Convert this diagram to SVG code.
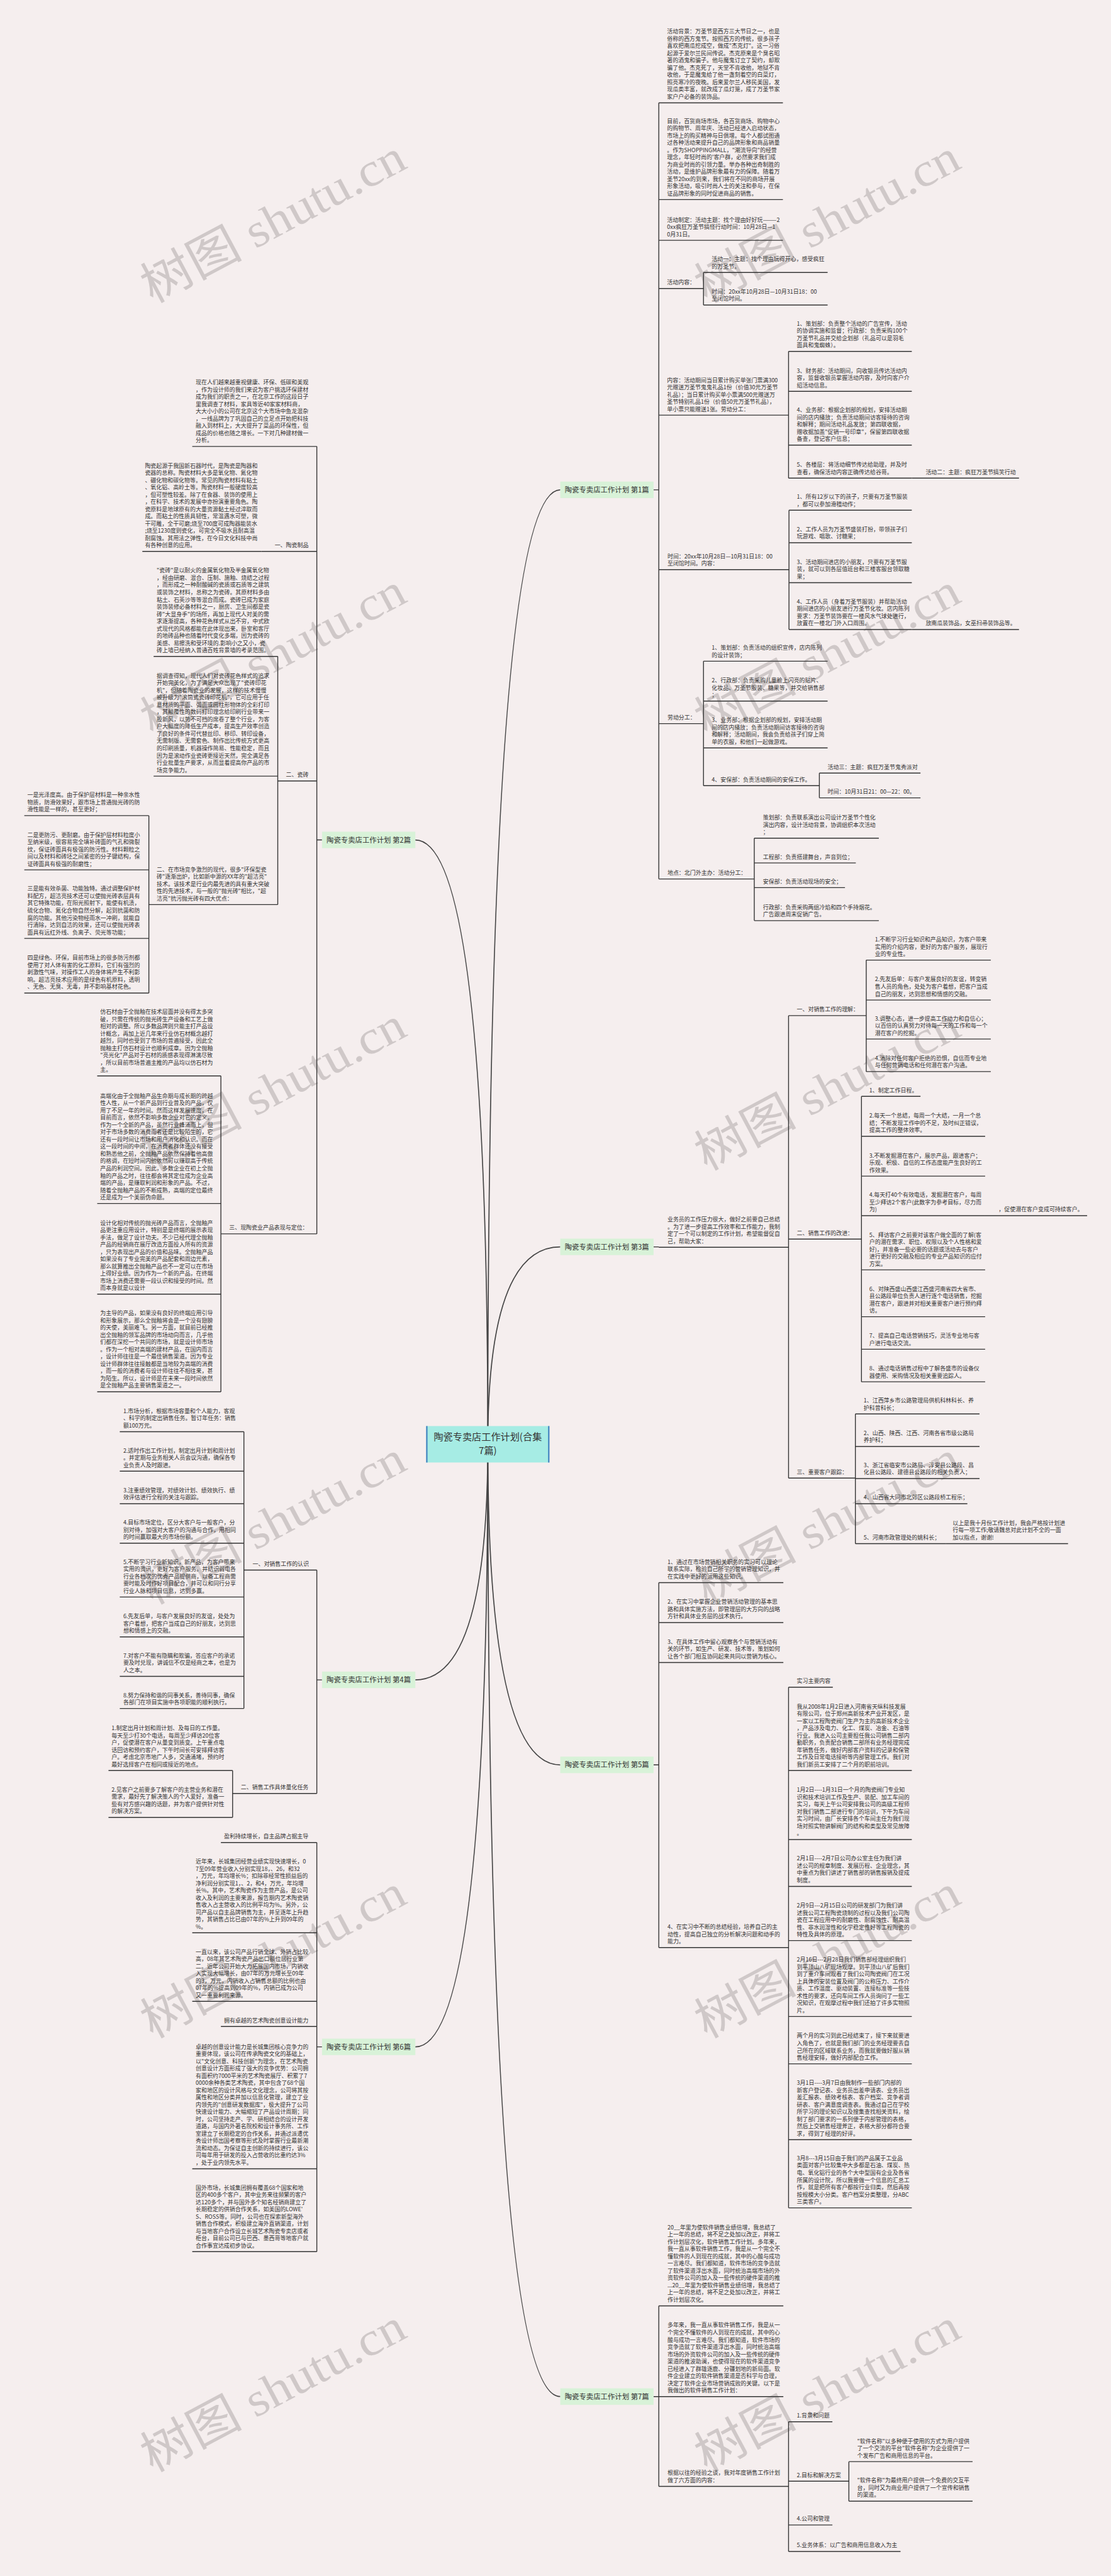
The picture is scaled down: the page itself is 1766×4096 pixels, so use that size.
<svg xmlns="http://www.w3.org/2000/svg" width="1766" height="4096" viewBox="0 0 1766 4096">
<style>
.t{font-family:"Noto Sans CJK SC","Noto Sans",sans-serif;font-size:13px;fill:#333}
.l{stroke:#333;stroke-width:2;fill:none}
.c{stroke:#444;stroke-width:2.5;fill:none}
.lb{fill:#d8f2d8}
.lt{font-family:"Noto Sans CJK SC","Noto Sans",sans-serif;font-size:16.5px;fill:#333;text-anchor:middle}
.wm{font-family:"Liberation Serif","Noto Sans CJK SC",serif;font-size:110px;fill:#cfc8c8}
</style>
<rect width="1766" height="4096" fill="#f5eeee"/>
<g transform="scale(0.68984375)">
<g id="watermarks">
<text class="wm" transform="translate(351 700) rotate(-28)" textLength="670" lengthAdjust="spacingAndGlyphs">树图 shutu.cn</text>
<text class="wm" transform="translate(351 1700) rotate(-28)" textLength="670" lengthAdjust="spacingAndGlyphs">树图 shutu.cn</text>
<text class="wm" transform="translate(351 2700) rotate(-28)" textLength="670" lengthAdjust="spacingAndGlyphs">树图 shutu.cn</text>
<text class="wm" transform="translate(351 3700) rotate(-28)" textLength="670" lengthAdjust="spacingAndGlyphs">树图 shutu.cn</text>
<text class="wm" transform="translate(351 4700) rotate(-28)" textLength="670" lengthAdjust="spacingAndGlyphs">树图 shutu.cn</text>
<text class="wm" transform="translate(351 5700) rotate(-28)" textLength="670" lengthAdjust="spacingAndGlyphs">树图 shutu.cn</text>
<text class="wm" transform="translate(1628 700) rotate(-28)" textLength="670" lengthAdjust="spacingAndGlyphs">树图 shutu.cn</text>
<text class="wm" transform="translate(1628 1700) rotate(-28)" textLength="670" lengthAdjust="spacingAndGlyphs">树图 shutu.cn</text>
<text class="wm" transform="translate(1628 2700) rotate(-28)" textLength="670" lengthAdjust="spacingAndGlyphs">树图 shutu.cn</text>
<text class="wm" transform="translate(1628 3700) rotate(-28)" textLength="670" lengthAdjust="spacingAndGlyphs">树图 shutu.cn</text>
<text class="wm" transform="translate(1628 4700) rotate(-28)" textLength="670" lengthAdjust="spacingAndGlyphs">树图 shutu.cn</text>
<text class="wm" transform="translate(1628 5700) rotate(-28)" textLength="670" lengthAdjust="spacingAndGlyphs">树图 shutu.cn</text>
</g>
<g id="connectors">
<path class="c" d="M1124 3329Q1124 1129 1291 1129"/>
<path class="c" d="M1124 3329Q1124 1936 957 1936"/>
<path class="c" d="M1124 3329Q1124 2874 1291 2874"/>
<path class="c" d="M1124 3329Q1124 3872 957 3872"/>
<path class="c" d="M1124 3329Q1124 4068 1291 4068"/>
<path class="c" d="M1124 3329Q1124 4718 957 4718"/>
<path class="c" d="M1124 3329Q1124 5524 1291 5524"/>
<path class="l" d="M1506 1129H1518M1518 237V2026M1621 628V703M1817 810V1102M1818 1176V1451M1621 1524V1811M1888 1782V1839M1738 1932V2122"/>
<path class="l" d="M1506 2874H1518M1817 2341V3407M1996 2213V2470M1985 2527V3185M1971 3259V3558"/>
<path class="l" d="M1506 4068H1518M1518 3648V4489M1817 3889V5089"/>
<path class="l" d="M1506 5524H1518M1518 5315V5731M1817 5582V5881M1956 5674V5765"/>
<path class="l" d="M742 1936H730M730 1029V2844M640 1513V2085M343 1880V2289M509 2480V3208"/>
<path class="l" d="M742 3872H730M730 3619V4134M562 3300V3938M536 4081V4189"/>
<path class="l" d="M742 4718H730M730 4247V5190"/>
</g>
<g id="center">
<rect x="982" y="3287" width="284" height="84" fill="#a6ece4"/>
<path d="M983.5 3287V3371M1264.5 3287V3371" stroke="#3f7fbf" stroke-width="3"/>
<text x="1124" y="3320" text-anchor="middle" style="font-family:'Noto Sans CJK SC',sans-serif;font-size:22px;fill:#333">陶瓷专卖店工作计划(合集</text>
<text x="1124" y="3352" text-anchor="middle" style="font-family:'Noto Sans CJK SC',sans-serif;font-size:22px;fill:#333">7篇)</text>
</g>
<g id="s1"><rect class="lb" x="1291" y="1110" width="215" height="38"/><text class="lt" x="1398.5" y="1135">陶瓷专卖店工作计划 第1篇</text></g>
<g id="s2"><rect class="lb" x="742" y="1917" width="215" height="38"/><text class="lt" x="849.5" y="1942">陶瓷专卖店工作计划 第2篇</text></g>
<g id="s3"><rect class="lb" x="1291" y="2855" width="215" height="38"/><text class="lt" x="1398.5" y="2880">陶瓷专卖店工作计划 第3篇</text></g>
<g id="s4"><rect class="lb" x="742" y="3853" width="215" height="38"/><text class="lt" x="849.5" y="3878">陶瓷专卖店工作计划 第4篇</text></g>
<g id="s5"><rect class="lb" x="1291" y="4049" width="215" height="38"/><text class="lt" x="1398.5" y="4074">陶瓷专卖店工作计划 第5篇</text></g>
<g id="s6"><rect class="lb" x="742" y="4699" width="215" height="38"/><text class="lt" x="849.5" y="4724">陶瓷专卖店工作计划 第6篇</text></g>
<g id="s7"><rect class="lb" x="1291" y="5505" width="215" height="38"/><text class="lt" x="1398.5" y="5530">陶瓷专卖店工作计划 第7篇</text></g>

<g id="n1a"><text class="t" y="77.2"><tspan x="1537">活动背景：万圣节是西方三大节日之一，也是</tspan><tspan x="1537" dy="16.7">俗称的西方鬼节。按照西方的传统，很多孩子</tspan><tspan x="1537" dy="16.7">喜欢把南瓜挖成空，做成"杰克灯"。这一习俗</tspan><tspan x="1537" dy="16.7">起源于爱尔兰民间传说。杰克原来是个臭名昭</tspan><tspan x="1537" dy="16.7">著的酒鬼和骗子。他与魔鬼订立了契约，却欺</tspan><tspan x="1537" dy="16.7">骗了他。杰克死了，天堂不肯收他，地狱不肯</tspan><tspan x="1537" dy="16.7">收他，于是魔鬼给了他一盏刻着空的白菜灯，</tspan><tspan x="1537" dy="16.7">照亮寒冷的夜晚。后来爱尔兰人移民美国，发</tspan><tspan x="1537" dy="16.7">现瓜类丰富，就改成了瓜灯笼，成了万圣节家</tspan><tspan x="1537" dy="16.7">家户户必备的装饰品。</tspan></text><path class="l" d="M1518 237H1804"/></g>
<g id="n1b"><text class="t" y="283.5"><tspan x="1537">目前，百货商场市场，各百货商场、购物中心</tspan><tspan x="1537" dy="16.7">的购物节、周年庆、活动已经进入启动状态，</tspan><tspan x="1537" dy="16.7">市场上的购买精神与日俱增。每个人都试图通</tspan><tspan x="1537" dy="16.7">过各种活动来提升自己的品牌形象和商品销量</tspan><tspan x="1537" dy="16.7">。作为SHOPPINGMALL，"潮流导向"的经营</tspan><tspan x="1537" dy="16.7">理念，年轻时尚的'客户群，必然要求我们成</tspan><tspan x="1537" dy="16.7">为商业时尚的引领力量。举办各种出奇制胜的</tspan><tspan x="1537" dy="16.7">活动，是维护品牌形象最有力的保障。随着万</tspan><tspan x="1537" dy="16.7">圣节20xx的到来，我们将在不同的商场开展</tspan><tspan x="1537" dy="16.7">形象活动，吸引时尚人士的关注和参与，在保</tspan><tspan x="1537" dy="16.7">证品牌形象的同时促进商品的销售。</tspan></text><path class="l" d="M1518 460H1804"/></g>
<g id="n1c"><text class="t" y="511.1"><tspan x="1537">活动制定：活动主题：找个理由好好玩———2</tspan><tspan x="1537" dy="16.7">0xx疯狂万圣节搞怪行动时间：10月28日—1</tspan><tspan x="1537" dy="16.7">0月31日。</tspan></text><path class="l" d="M1518 554H1804"/></g>
<g id="n1d"><text class="t" x="1537" y="655.5">活动内容：</text><path class="l" d="M1518 665H1621"/></g>
<g id="n1d1"><text class="t" y="601.8"><tspan x="1640">活动一：主题：找个理由玩得开心，感受疯狂</tspan><tspan x="1640" dy="16.7">的万圣节。</tspan></text><path class="l" d="M1621 628H1907"/></g>
<g id="n1d2"><text class="t" y="676.8"><tspan x="1640">时间：20xx年10月28日—10月31日18：00</tspan><tspan x="1640" dy="16.7">至闭馆时间。</tspan></text><path class="l" d="M1621 703H1907"/></g>
<g id="n1e"><text class="t" y="880.7"><tspan x="1537">内容：活动期间当日累计购买单张门票满300</tspan><tspan x="1537" dy="16.7">元赠送万圣节鬼鬼礼品1份（价值30元万圣节</tspan><tspan x="1537" dy="16.7">礼品）；当日累计购买单小票满500元赠送万</tspan><tspan x="1537" dy="16.7">圣节特别礼品1份（价值50元万圣节礼品），</tspan><tspan x="1537" dy="16.7">单小票只能赠送1张。劳动分工：</tspan></text><path class="l" d="M1518 957H1817"/></g>
<g id="n1e1"><text class="t" y="750.4"><tspan x="1836">1、策划部：负责整个活动的广告宣传，活动</tspan><tspan x="1836" dy="16.7">的协调实施和监督；行政部：负责采购100个</tspan><tspan x="1836" dy="16.7">万圣节礼品并交给企划部（礼品可以是羽毛</tspan><tspan x="1836" dy="16.7">面具和鬼蜘蛛）。</tspan></text><path class="l" d="M1817 810H2101"/></g>
<g id="n1e2"><text class="t" y="859.1"><tspan x="1836">3、财务部：活动期间，向收银员传达活动内</tspan><tspan x="1836" dy="16.7">容，监督收银员掌握活动内容，及时向客户介</tspan><tspan x="1836" dy="16.7">绍活动信息。</tspan></text><path class="l" d="M1817 902H2101"/></g>
<g id="n1e3"><text class="t" y="949.7"><tspan x="1836">4、业务部：根据企划部的规划，安排活动期</tspan><tspan x="1836" dy="16.7">间的店内播放；负责活动期间访客接待的咨询</tspan><tspan x="1836" dy="16.7">和解释；期间活动礼品发放；第四联收据，</tspan><tspan x="1836" dy="16.7">赠收据加盖"促销一号印章"，保留第四联收据</tspan><tspan x="1836" dy="16.7">备查，登记客户信息；</tspan></text><path class="l" d="M1817 1026H2101"/></g>
<g id="n1e4"><text class="t" y="1075.8"><tspan x="1836">5、各楼层：将活动细节传达给助理，并及时</tspan><tspan x="1836" dy="16.7">查看，确保活动内容正确传达给谷哥。</tspan></text><path class="l" d="M1817 1102H2101"/></g>
<g id="n1e4a"><text class="t" x="2133" y="1092.5">活动二：主题：疯狂万圣节搞笑行动</text><path class="l" d="M2101 1102H2348"/></g>
<g id="n1f"><text class="t" y="1286.8"><tspan x="1538">时间：20xx年10月28日—10月31日18：00</tspan><tspan x="1538" dy="16.7">至闭馆时间。内容：</tspan></text><path class="l" d="M1518 1313H1818"/></g>
<g id="n1f1"><text class="t" y="1149.8"><tspan x="1836">1、所有12岁以下的孩子，只要有万圣节服装</tspan><tspan x="1836" dy="16.7">，都可以参加滑稽动作；</tspan></text><path class="l" d="M1818 1176H2101"/></g>
<g id="n1f2"><text class="t" y="1224.8"><tspan x="1836">2、工作人员为万圣节盛装打扮，带领孩子们</tspan><tspan x="1836" dy="16.7">玩游戏、唱歌、讨糖果；</tspan></text><path class="l" d="M1818 1251H2101"/></g>
<g id="n1f3"><text class="t" y="1300.1"><tspan x="1836">3、活动期间进店的小朋友，只要有万圣节服</tspan><tspan x="1836" dy="16.7">装，就可以到各层值班台和三楼客服台领取糖</tspan><tspan x="1836" dy="16.7">果；</tspan></text><path class="l" d="M1818 1343H2101"/></g>
<g id="n1f4"><text class="t" y="1391.4"><tspan x="1836">4、工作人员（身着万圣节服装）并帮助活动</tspan><tspan x="1836" dy="16.7">期间进店的小朋友进行万圣节化妆。店内陈列</tspan><tspan x="1836" dy="16.7">要求：万圣节装饰要在一楼风水气球处进行，</tspan><tspan x="1836" dy="16.7">放置在一楼北门外入口周围。</tspan></text><path class="l" d="M1818 1451H2101"/></g>
<g id="n1f4a"><text class="t" x="2133" y="1441.5">放南瓜装饰品，女巫扫帚装饰品等。</text><path class="l" d="M2101 1451H2348"/></g>
<g id="n1g"><text class="t" x="1538" y="1658.5">劳动分工：</text><path class="l" d="M1518 1668H1621"/></g>
<g id="n1g1"><text class="t" y="1497.8"><tspan x="1640">1、策划部：负责活动的组织宣传，店内陈列</tspan><tspan x="1640" dy="16.7">的设计装饰；</tspan></text><path class="l" d="M1621 1524H1907"/></g>
<g id="n1g2"><text class="t" y="1573.1"><tspan x="1640">2、行政部：负责采购儿童脸上闪亮的贴片、</tspan><tspan x="1640" dy="16.7">化妆品、万圣节服装、糖果等，并交给销售部</tspan><tspan x="1640" dy="16.7">；</tspan></text><path class="l" d="M1621 1616H1907"/></g>
<g id="n1g3"><text class="t" y="1664.4"><tspan x="1640">3、业务部：根据企划部的规划，安排活动期</tspan><tspan x="1640" dy="16.7">间的店内播放；负责活动期间访客接待的咨询</tspan><tspan x="1640" dy="16.7">和解释；活动期间，我会负责给孩子们穿上简</tspan><tspan x="1640" dy="16.7">单的衣服，和他们一起做游戏。</tspan></text><path class="l" d="M1621 1724H1907"/></g>
<g id="n1g4"><text class="t" x="1640" y="1801.5">4、安保部：负责活动期间的安保工作。</text><path class="l" d="M1621 1811H1888"/></g>
<g id="n1g4a"><text class="t" x="1907" y="1772.5">活动三：主题：疯狂万圣节鬼秀派对</text><path class="l" d="M1888 1782H2121"/></g>
<g id="n1g4b"><text class="t" x="1907" y="1829.5">时间：10月31日21：00—22：00。</text><path class="l" d="M1888 1839H2121"/></g>
<g id="n1h"><text class="t" x="1538" y="2016.5">地点：北门外主办：活动分工：</text><path class="l" d="M1518 2026H1738"/></g>
<g id="n1h1"><text class="t" y="1889.1"><tspan x="1758">策划部：负责联系演出公司设计万圣节个性化</tspan><tspan x="1758" dy="16.7">演出内容，设计活动背景，协调组织本次活动</tspan><tspan x="1758" dy="16.7">；</tspan></text><path class="l" d="M1738 1932H2025"/></g>
<g id="n1h2"><text class="t" x="1758" y="1979.5">工程部：负责搭建舞台，声音到位；</text><path class="l" d="M1738 1989H1972"/></g>
<g id="n1h3"><text class="t" x="1758" y="2036.5">安保部：负责活动现场的安全；</text><path class="l" d="M1738 2046H1947"/></g>
<g id="n1h4"><text class="t" y="2095.8"><tspan x="1758">行政部：负责采购两组冷焰和四个手持烟花。</tspan><tspan x="1758" dy="16.7">广告跟进周末促销广告。</tspan></text><path class="l" d="M1738 2122H2025"/></g>

<g id="n3"><text class="t" y="2815.4"><tspan x="1538">业务员的工作压力很大，做好之前要自己总结</tspan><tspan x="1538" dy="16.7">。为了进一步提高工作效率和工作能力，我制</tspan><tspan x="1538" dy="16.7">定了一个可以制定的工作计划，希望能督促自</tspan><tspan x="1538" dy="16.7">己，帮助大家：</tspan></text><path class="l" d="M1518 2875H1817"/></g>
<g id="n3a"><text class="t" x="1836" y="2331.5">一、对销售工作的理解：</text><path class="l" d="M1817 2341H1996"/></g>
<g id="n3a1"><text class="t" y="2170.1"><tspan x="2016">1.不断学习行业知识和产品知识，为客户带来</tspan><tspan x="2016" dy="16.7">实用的介绍内容，更好的为客户服务，展现行</tspan><tspan x="2016" dy="16.7">业的专业性。</tspan></text><path class="l" d="M1996 2213H2283"/></g>
<g id="n3a2"><text class="t" y="2262.1"><tspan x="2016">2.先友后单：与客户发展良好的友谊，转变销</tspan><tspan x="2016" dy="16.7">售人员的角色，处处为客户着想，把客户当成</tspan><tspan x="2016" dy="16.7">自己的朋友，达到思想和情感的交融。</tspan></text><path class="l" d="M1996 2305H2283"/></g>
<g id="n3a3"><text class="t" y="2352.1"><tspan x="2016">3.调整心态，进一步提高工作动力和自信心；</tspan><tspan x="2016" dy="16.7">以百倍的认真努力对待每一天的工作和每一个</tspan><tspan x="2016" dy="16.7">潜在客户的挖掘。</tspan></text><path class="l" d="M1996 2395H2283"/></g>
<g id="n3a4"><text class="t" y="2443.8"><tspan x="2016">4.消除对任何客户拒绝的恐惧，自信而专业地</tspan><tspan x="2016" dy="16.7">与任何营销电话和任何潜在客户沟通。</tspan></text><path class="l" d="M1996 2470H2283"/></g>
<g id="n3b"><text class="t" x="1836" y="2846.5">二、销售工作的改进：</text><path class="l" d="M1817 2856H1985"/></g>
<g id="n3b1"><text class="t" x="2003" y="2517.5">1、制定工作日程。</text><path class="l" d="M1985 2527H2121"/></g>
<g id="n3b2"><text class="t" y="2576.1"><tspan x="2003">2.每天一个总结，每周一个大结，一月一个总</tspan><tspan x="2003" dy="16.7">结；不断发现工作中的不足，及时纠正错误，</tspan><tspan x="2003" dy="16.7">提高工作的整体效率。</tspan></text><path class="l" d="M1985 2619H2270"/></g>
<g id="n3b3"><text class="t" y="2668.1"><tspan x="2003">3.不断发掘潜在客户，展示产品，跟进客户；</tspan><tspan x="2003" dy="16.7">乐观、积极、自信的工作态度能产生良好的工</tspan><tspan x="2003" dy="16.7">作效果。</tspan></text><path class="l" d="M1985 2711H2270"/></g>
<g id="n3b4"><text class="t" y="2759.1"><tspan x="2003">4.每天打40个有效电话，发掘潜在客户，每周</tspan><tspan x="2003" dy="16.7">至少拜访2个客户(此数字为参考目标，尽力而</tspan><tspan x="2003" dy="16.7">为)</tspan></text><path class="l" d="M1985 2802H2270"/></g>
<g id="n3b4a"><text class="t" x="2301" y="2792.5">，促使潜在客户变成可持续客户。</text><path class="l" d="M2270 2802H2505"/></g>
<g id="n3b5"><text class="t" y="2850.7"><tspan x="2003">5、拜访客户之前要对该客户做全面的了解(客</tspan><tspan x="2003" dy="16.7">户的潜在需求、职位、权限以及个人性格和爱</tspan><tspan x="2003" dy="16.7">好)，并准备一些必要的话题或活动去与客户</tspan><tspan x="2003" dy="16.7">进行更好的交融及相应的专业产品知识的应付</tspan><tspan x="2003" dy="16.7">方案。</tspan></text><path class="l" d="M1985 2927H2270"/></g>
<g id="n3b6"><text class="t" y="2975.4"><tspan x="2003">6、对陕西盛山西盛江西盛河南省四大省市、</tspan><tspan x="2003" dy="16.7">县公路段单位负责人进行逐个电话销售，挖掘</tspan><tspan x="2003" dy="16.7">潜在客户，跟进并对相关重要客户进行预约拜</tspan><tspan x="2003" dy="16.7">访。</tspan></text><path class="l" d="M1985 3035H2270"/></g>
<g id="n3b7"><text class="t" y="3083.8"><tspan x="2003">7、提高自己电话营销技巧，灵活专业地与客</tspan><tspan x="2003" dy="16.7">户进行电话交流。</tspan></text><path class="l" d="M1985 3110H2270"/></g>
<g id="n3b8"><text class="t" y="3158.8"><tspan x="2003">8、通过电话销售过程中了解各盛市的设备仪</tspan><tspan x="2003" dy="16.7">器使用、采购情况及相关重要追踪人。</tspan></text><path class="l" d="M1985 3185H2270"/></g>
<g id="n3c"><text class="t" x="1836" y="3397.5">三、重要客户跟踪：</text><path class="l" d="M1817 3407H1971"/></g>
<g id="n3c1"><text class="t" y="3232.8"><tspan x="1990">1、江西萍乡市公路管理局供机科林科长、养</tspan><tspan x="1990" dy="16.7">护科曾科长；</tspan></text><path class="l" d="M1971 3259H2257"/></g>
<g id="n3c2"><text class="t" y="3307.8"><tspan x="1990">2、山西、陕西、江西、河南各省市级公路局</tspan><tspan x="1990" dy="16.7">养护科；</tspan></text><path class="l" d="M1971 3334H2257"/></g>
<g id="n3c3"><text class="t" y="3381.8"><tspan x="1990">3、浙江省临安市公路局、淳安县公路段、昌</tspan><tspan x="1990" dy="16.7">化县公路段、建德县公路段的相关负责人；</tspan></text><path class="l" d="M1971 3408H2257"/></g>
<g id="n3c4"><text class="t" x="1990" y="3456.5">4、山西省大同市北郊区公路段桥工程乐；</text><path class="l" d="M1971 3466H2229"/></g>
<g id="n3c5"><text class="t" x="1990" y="3548.5">5、河南市政管理处的姚科长；</text><path class="l" d="M1971 3558H2180"/></g>
<g id="n3c5a"><text class="t" y="3515.1"><tspan x="2195">以上是我十月份工作计划，我会严格按计划进</tspan><tspan x="2195" dy="16.7">行每一项工作;敬请魏总对此计划不全的一面</tspan><tspan x="2195" dy="16.7">加以指点，谢谢!</tspan></text><path class="l" d="M2180 3558H2461"/></g>

<g id="n5a"><text class="t" y="3605.1"><tspan x="1538">1、通过在市场营销相关职务的实习可以理论</tspan><tspan x="1538" dy="16.7">联系实际，检验自己所学的营销管理知识，并</tspan><tspan x="1538" dy="16.7">在实践中更好的运用这些知识。</tspan></text><path class="l" d="M1518 3648H1805"/></g>
<g id="n5b"><text class="t" y="3697.1"><tspan x="1538">2、在实习中掌握企业营销活动管理的基本思</tspan><tspan x="1538" dy="16.7">路和具体实施方法，即管理层的大方向的战略</tspan><tspan x="1538" dy="16.7">方针和具体业务层的战术执行。</tspan></text><path class="l" d="M1518 3740H1805"/></g>
<g id="n5c"><text class="t" y="3789.1"><tspan x="1538">3、在具体工作中留心观察各个与营销活动有</tspan><tspan x="1538" dy="16.7">关的环节，如生产、研发、技术等，策划如何</tspan><tspan x="1538" dy="16.7">让各个部门相互协同起来共同以营销为核心。</tspan></text><path class="l" d="M1518 3832H1805"/></g>
<g id="n5d"><text class="t" y="4446.1"><tspan x="1538">4、在实习中不断的总结经验，培养自己的主</tspan><tspan x="1538" dy="16.7">动性，提高自己独立的分析解决问题和动手的</tspan><tspan x="1538" dy="16.7">能力。</tspan></text><path class="l" d="M1518 4489H1817"/></g>
<g id="n5d0"><text class="t" x="1836" y="3879.5">实习主要内容</text><path class="l" d="M1817 3889H1919"/></g>
<g id="n5d1"><text class="t" y="3937.9"><tspan x="1836">我从2008年1月2日进入河南省天纵科技发展</tspan><tspan x="1836" dy="16.7">有限公司，位于郑州高新技术产业开发区，是</tspan><tspan x="1836" dy="16.7">一家以工程陶瓷阀门生产为主的高新技术企业</tspan><tspan x="1836" dy="16.7">，产品涉及电力、化工、煤炭、冶金、石油等</tspan><tspan x="1836" dy="16.7">行业。我进入公司主要担任我公司销售二部内</tspan><tspan x="1836" dy="16.7">勤职务，负责配合销售二部所有业务经理完成</tspan><tspan x="1836" dy="16.7">年销售任务，做好内部客户资料的记录和保管</tspan><tspan x="1836" dy="16.7">工作及日常电话接听等内部管理工作。我们对</tspan><tspan x="1836" dy="16.7">我们新员工安排了二个月的职前培训。</tspan></text><path class="l" d="M1817 4081H2101"/></g>
<g id="n5d2"><text class="t" y="4130.3"><tspan x="1836">1月2日----1月31日一个月的陶瓷阀门专业知</tspan><tspan x="1836" dy="16.7">识和技术培训工作及生产、装配、加工车间的</tspan><tspan x="1836" dy="16.7">实习，每天上午公司安排我公司的高级工程师</tspan><tspan x="1836" dy="16.7">对我们销售二部进行专门的培训，下午为车间</tspan><tspan x="1836" dy="16.7">实习时间，由厂长安排各个车间主任为我们现</tspan><tspan x="1836" dy="16.7">场对照实物讲解阀门的结构和类型及常见故障</tspan><tspan x="1836" dy="16.7">。</tspan></text><path class="l" d="M1817 4240H2101"/></g>
<g id="n5d3"><text class="t" y="4288.4"><tspan x="1836">2月1日----2月7日公司办公室主任为我们讲</tspan><tspan x="1836" dy="16.7">述公司的规章制度、发展历程、企业理念，其</tspan><tspan x="1836" dy="16.7">中重点为我们讲述了销售部的销售报销及提成</tspan><tspan x="1836" dy="16.7">制度。</tspan></text><path class="l" d="M1817 4348H2101"/></g>
<g id="n5d4"><text class="t" y="4396.7"><tspan x="1836">2月9日---2月15日公司的研发部门为我们讲</tspan><tspan x="1836" dy="16.7">述我公司工程陶瓷烧制的过程以及我们公司陶</tspan><tspan x="1836" dy="16.7">瓷在工程应用中的耐磨性、耐腐蚀性、耐高温</tspan><tspan x="1836" dy="16.7">性、非水润湿性和化学稳定性好等工程陶瓷的</tspan><tspan x="1836" dy="16.7">特性及具体的原理。</tspan></text><path class="l" d="M1817 4473H2101"/></g>
<g id="n5d5"><text class="t" y="4521.6"><tspan x="1836">2月16日---2月28日我们销售部经理组织我们</tspan><tspan x="1836" dy="16.7">到平顶山八矿现场观摩。到平顶山八矿后我们</tspan><tspan x="1836" dy="16.7">到了重介车间观看了我们公司陶瓷阀门在工况</tspan><tspan x="1836" dy="16.7">上具体的安装位置及阀门的公称压力、工作介</tspan><tspan x="1836" dy="16.7">质、工作温度、驱动装置、连接标准等一些技</tspan><tspan x="1836" dy="16.7">术性的要求，还向车间工作人员询问了一些工</tspan><tspan x="1836" dy="16.7">况知识，在观摩过程中我们还拍了许多实物照</tspan><tspan x="1836" dy="16.7">片。</tspan></text><path class="l" d="M1817 4648H2101"/></g>
<g id="n5d6"><text class="t" y="4697.4"><tspan x="1836">两个月的实习到此已经结束了，接下来就要进</tspan><tspan x="1836" dy="16.7">入角色了，也就是我们部门的业务经理要去自</tspan><tspan x="1836" dy="16.7">己所在的区域联系业务，而我就要做好服从销</tspan><tspan x="1836" dy="16.7">售经理安排，做好内部配合工作。</tspan></text><path class="l" d="M1817 4757H2101"/></g>
<g id="n5d7"><text class="t" y="4805.6"><tspan x="1836">3月1日----3月7日由我制作一些部门内部的</tspan><tspan x="1836" dy="16.7">新客户登记表、业务员出差申请表、业务员出</tspan><tspan x="1836" dy="16.7">差汇报表、绩效考核表、客户档案、竞争者调</tspan><tspan x="1836" dy="16.7">研表、客户满意度调查表。我通过自己在学校</tspan><tspan x="1836" dy="16.7">所学习的理论知识以及搜集查找相关资料，绘</tspan><tspan x="1836" dy="16.7">制了部门要求的一系列便于内部管理的表格，</tspan><tspan x="1836" dy="16.7">然后上交销售经理斧正，表格大部分都符合要</tspan><tspan x="1836" dy="16.7">求，得到了经理的好评。</tspan></text><path class="l" d="M1817 4932H2101"/></g>
<g id="n5d8"><text class="t" y="4979.3"><tspan x="1836">3月8---3月15日由于我们的产品属于工业品</tspan><tspan x="1836" dy="16.7">类面对客户比较集中大多都是石油、煤炭、热</tspan><tspan x="1836" dy="16.7">电、氧化铝行业的各个大中型国有企业及各省</tspan><tspan x="1836" dy="16.7">所属的设计院，所以我要做一个信息的汇总工</tspan><tspan x="1836" dy="16.7">作，就是把所有客户都按行业归类，然后再按</tspan><tspan x="1836" dy="16.7">按规模大小分类。客户档案分类整理，分ABC</tspan><tspan x="1836" dy="16.7">三类客户。</tspan></text><path class="l" d="M1817 5089H2101"/></g>

<g id="n7a"><text class="t" y="5138.5"><tspan x="1538">20__年里为使软件销售业绩倍增，我总结了</tspan><tspan x="1538" dy="16.7">上一年的总结，将不足之处加以改正，并将工</tspan><tspan x="1538" dy="16.7">作计划层次化，软件销售工作计划。多年来，</tspan><tspan x="1538" dy="16.7">我一直从事软件销售工作，我是从一个完全不</tspan><tspan x="1538" dy="16.7">懂软件的人到现在的成就，其中的心酸与成功</tspan><tspan x="1538" dy="16.7">一言难尽。我们都知道，软件市场的竞争造就</tspan><tspan x="1538" dy="16.7">了软件渠道浮出水面，同时统治高端市场的外</tspan><tspan x="1538" dy="16.7">资软件公司的加入及一些传统的硬件渠道的推</tspan><tspan x="1538" dy="16.7">...20__年里为使软件销售业绩倍增，我总结了</tspan><tspan x="1538" dy="16.7">上一年的总结，将不足之处加以改正，并将工</tspan><tspan x="1538" dy="16.7">作计划层次化。</tspan></text><path class="l" d="M1518 5315H1805"/></g>
<g id="n7b"><text class="t" y="5364.2"><tspan x="1538">多年来，我一直从事软件销售工作，我是从一</tspan><tspan x="1538" dy="16.7">个完全不懂软件的人到现在的成就，其中的心</tspan><tspan x="1538" dy="16.7">酸与成功一言难尽。我们都知道，软件市场的</tspan><tspan x="1538" dy="16.7">竞争造就了软件渠道浮出水面，同时统治高端</tspan><tspan x="1538" dy="16.7">市场的外资软件公司的加入及一些传统的硬件</tspan><tspan x="1538" dy="16.7">渠道的推波助澜，也使得现在的软件渠道竞争</tspan><tspan x="1538" dy="16.7">已经进入了群雄逐鹿、分疆划地的新局面。软</tspan><tspan x="1538" dy="16.7">件企业建立的软件销售渠道是否科学与合理，</tspan><tspan x="1538" dy="16.7">决定了软件企业市场营销成败的关键。以下是</tspan><tspan x="1538" dy="16.7">我做出的软件销售工作计划：</tspan></text><path class="l" d="M1518 5524H1805"/></g>
<g id="n7c"><text class="t" y="5704.8"><tspan x="1538">根据以往的经验之谈，我对年度销售工作计划</tspan><tspan x="1538" dy="16.7">做了六方面的内容：</tspan></text><path class="l" d="M1518 5731H1817"/></g>
<g id="n7c1"><text class="t" x="1836" y="5572.5">1.背景和问题</text><path class="l" d="M1817 5582H1918"/></g>
<g id="n7c2"><text class="t" x="1836" y="5709.5">2.目标和解决方案</text><path class="l" d="M1817 5719H1956"/></g>
<g id="n7c2a"><text class="t" y="5631.1"><tspan x="1975">"软件名称"以多种便于使用的方式为用户提供</tspan><tspan x="1975" dy="16.7">了一个交流的平台"软件名称"为企业提供了一</tspan><tspan x="1975" dy="16.7">个发布广告和商用信息的平台。</tspan></text><path class="l" d="M1956 5674H2241"/></g>
<g id="n7c2b"><text class="t" y="5722.1"><tspan x="1975">"软件名称"为最终用户提供一个免费的交互平</tspan><tspan x="1975" dy="16.7">台，同时又为商业用户提供了一个宣传和销售</tspan><tspan x="1975" dy="16.7">的渠道。</tspan></text><path class="l" d="M1956 5765H2241"/></g>
<g id="n7c3"><text class="t" x="1836" y="5810.5">4.公司和管理</text><path class="l" d="M1817 5820H1918"/></g>
<g id="n7c4"><text class="t" x="1836" y="5871.5">5.业务体系：以广告和商用信息收入为主</text><path class="l" d="M1817 5881H2075"/></g>

<g id="n2a"><text class="t" y="885.9"><tspan x="451">现在人们越来越重视健康、环保、低碳和美观</tspan><tspan x="451" dy="16.7">，作为设计师的我们来说为客户挑选环保建材</tspan><tspan x="451" dy="16.7">成为我们的职责之一，在北京工作的这段日子</tspan><tspan x="451" dy="16.7">里我调查了材料，家具等近40家家材料商，</tspan><tspan x="451" dy="16.7">大大小小的公司在北京这个大市场中鱼龙混杂</tspan><tspan x="451" dy="16.7">，一线品牌为了巩固自己的立足点开始把科技</tspan><tspan x="451" dy="16.7">融入到材料上，大大提升了菜品的环保性，但</tspan><tspan x="451" dy="16.7">成品的价格也随之增长。一下对几种建材做一</tspan><tspan x="451" dy="16.7">分析。</tspan></text><path class="l" d="M443 1029H730"/></g>
<g id="n2b"><text class="t" x="633" y="1261.5">一、陶瓷制品</text><path class="l" d="M602 1271H730"/></g>
<g id="n2b1"><text class="t" y="1077.8"><tspan x="334">陶瓷起源于我国新石器时代，是陶瓷是陶器和</tspan><tspan x="334" dy="16.7">瓷器的总称。陶瓷材料大多是氧化物、氮化物</tspan><tspan x="334" dy="16.7">、硼化物和碳化物等。常见的陶瓷材料有粘土</tspan><tspan x="334" dy="16.7">、氧化铝、高岭土等。陶瓷材料一般硬度较高</tspan><tspan x="334" dy="16.7">，但可塑性较差。除了在食器、装饰的使用上</tspan><tspan x="334" dy="16.7">，在科学、技术的发展中亦扮演重要角色。陶</tspan><tspan x="334" dy="16.7">瓷原料是地球原有的大量资源黏土经过淬取而</tspan><tspan x="334" dy="16.7">成。而粘土的性质具韧性，常温遇水可塑，微</tspan><tspan x="334" dy="16.7">干可雕，全干可磨;烧至700度可成陶器能装水</tspan><tspan x="334" dy="16.7">;烧至1230度则瓷化，可完全不吸水且耐高温</tspan><tspan x="334" dy="16.7">耐腐蚀。其用法之弹性，在今日文化科技中尚</tspan><tspan x="334" dy="16.7">有各种创意的应用。</tspan></text><path class="l" d="M328 1271H602"/></g>
<g id="n2c"><text class="t" x="659" y="1790.5">二、瓷砖</text><path class="l" d="M640 1800H730"/></g>
<g id="n2c1"><text class="t" y="1319.8"><tspan x="361">"瓷砖"是以耐火的金属氧化物及半金属氧化物</tspan><tspan x="361" dy="16.7">，经由研磨、混合、压制、施釉、烧结之过程</tspan><tspan x="361" dy="16.7">，而形成之一种耐酸碱的瓷质或石质等之建筑</tspan><tspan x="361" dy="16.7">或装饰之材料，总称之为瓷砖。其原材料多由</tspan><tspan x="361" dy="16.7">粘土、石英沙等等混合而成。瓷砖已成为家庭</tspan><tspan x="361" dy="16.7">装饰装修必备材料之一，厨房、卫生间都是瓷</tspan><tspan x="361" dy="16.7">砖"大显身手"的场所，再加上现代人对美的需</tspan><tspan x="361" dy="16.7">求逐渐提高，各种花色样式从出不穷，中式欧</tspan><tspan x="361" dy="16.7">式现代的风格都能在此体现出来，卧室和客厅</tspan><tspan x="361" dy="16.7">的地砖品种也随着时代变化多端，因为瓷砖的</tspan><tspan x="361" dy="16.7">美感、易擦洗和受环境的.影响小之又小，瓷</tspan><tspan x="361" dy="16.7">砖上墙已经纳入普通百姓背景墙的考录范围。</tspan></text><path class="l" d="M354 1513H640"/></g>
<g id="n2c2"><text class="t" y="1562.4"><tspan x="361">据调查得知，现代人们对瓷砖花色样式的追求</tspan><tspan x="361" dy="16.7">开始完美化，为了满足大众出现了"瓷砖印花</tspan><tspan x="361" dy="16.7">机"，但随着陶瓷业的发展，这样的技术慢慢</tspan><tspan x="361" dy="16.7">被升级为"滚筒式瓷砖印花机"，它可应用于任</tspan><tspan x="361" dy="16.7">意材质的平面、弧面或圆柱形物体的全彩打印</tspan><tspan x="361" dy="16.7">，其颠覆性的数码打印理念给印刷行业带来一</tspan><tspan x="361" dy="16.7">股新风，以势不可挡的席卷了整个行业，为客</tspan><tspan x="361" dy="16.7">户大幅度的降低生产成本，提高生产效率创造</tspan><tspan x="361" dy="16.7">了良好的条件可代替丝印、移印、转印设备，</tspan><tspan x="361" dy="16.7">无需制版、无需套色、制作出比传统方式更高</tspan><tspan x="361" dy="16.7">的印刷质量，机器操作简易、性能稳定，而且</tspan><tspan x="361" dy="16.7">因为是滚动作业瓷砖更接近天然，完全满足各</tspan><tspan x="361" dy="16.7">行业批量生产要求，从而显着提高你产品的市</tspan><tspan x="361" dy="16.7">场竞争能力。</tspan></text><path class="l" d="M354 1789H640"/></g>
<g id="n2c3"><text class="t" y="2008.7"><tspan x="361">二、在市场竞争激烈的现代，很多"环保型瓷</tspan><tspan x="361" dy="16.7">砖"逐渐出炉，比如新中源的XX年的"超洁亮"</tspan><tspan x="361" dy="16.7">技术。该技术是行业内最先进的具有重大突破</tspan><tspan x="361" dy="16.7">性的先进技术，与一般的"抛光砖"相比，"超</tspan><tspan x="361" dy="16.7">洁亮"抗污抛光砖有四大优点：</tspan></text><path class="l" d="M343 2085H640"/></g>
<g id="n2c3a"><text class="t" y="1837.1"><tspan x="63">一是光泽度高。由于保护层材料是一种亲水性</tspan><tspan x="63" dy="16.7">物质，防滑效果好，跟市场上普通抛光砖的防</tspan><tspan x="63" dy="16.7">滑性能是一样的，甚至更好；</tspan></text><path class="l" d="M56 1880H343"/></g>
<g id="n2c3b"><text class="t" y="1928.7"><tspan x="63">二是更防污、更耐磨。由于保护层材料粒度小</tspan><tspan x="63" dy="16.7">至纳米级，很容易完全填补砖面的气孔和微裂</tspan><tspan x="63" dy="16.7">纹，保证砖面具有极强的防污性。材料颗粒之</tspan><tspan x="63" dy="16.7">间以及材料和砖坯之间紧密的分子键结构，保</tspan><tspan x="63" dy="16.7">证砖面具有极强的耐磨性；</tspan></text><path class="l" d="M56 2005H343"/></g>
<g id="n2c3c"><text class="t" y="2053.3"><tspan x="63">三是能有效杀菌、功能独特。通过调整保护材</tspan><tspan x="63" dy="16.7">料配方，超洁亮技术还可以使抛光砖表层具有</tspan><tspan x="63" dy="16.7">其它特殊功能，在阳光照射下，能使有机渍，</tspan><tspan x="63" dy="16.7">硫化合物、氮化合物自然分解，起到抗菌和防</tspan><tspan x="63" dy="16.7">腐的功能。其他污染物经雨水一冲刷，就能自</tspan><tspan x="63" dy="16.7">行清除，达到自洁的效果，还可以使抛光砖表</tspan><tspan x="63" dy="16.7">面具有远红外线、负离子、荧光等功能；</tspan></text><path class="l" d="M56 2163H343"/></g>
<g id="n2c3d"><text class="t" y="2212.7"><tspan x="63">四是绿色、环保，目前市场上的很多防污剂都</tspan><tspan x="63" dy="16.7">使用了对人体有害的化工原料，它们有强烈的</tspan><tspan x="63" dy="16.7">刺激性气味，对操作工人的身体将产生不利影</tspan><tspan x="63" dy="16.7">响。超洁亮技术应用的是绿色有机原料，透明</tspan><tspan x="63" dy="16.7">、无色、无臭、无毒，并不影响基材花色。</tspan></text><path class="l" d="M56 2289H343"/></g>
<g id="n2d"><text class="t" x="528" y="2834.5">三、现陶瓷业产品表现与定位：</text><path class="l" d="M509 2844H730"/></g>
<g id="n2d1"><text class="t" y="2336.9"><tspan x="231">仿石材由于全抛釉在技术层面并没有得太多突</tspan><tspan x="231" dy="16.7">破，只需在传统的抛光砖生产设备和工艺上做</tspan><tspan x="231" dy="16.7">相对的调整。所以多数品牌则只能主打产品设</tspan><tspan x="231" dy="16.7">计概念，再加上近几年来行业仿石材概念越打</tspan><tspan x="231" dy="16.7">越烈，同时也受到了市场的普遍接受，因此全</tspan><tspan x="231" dy="16.7">抛釉主打仿石材设计也顺利成章。因为全抛釉</tspan><tspan x="231" dy="16.7">"亮光化"产品对于石材的质感表现得淋漓尽致</tspan><tspan x="231" dy="16.7">，所以目前市场普遍主推的产品均以仿石材为</tspan><tspan x="231" dy="16.7">主。</tspan></text><path class="l" d="M224 2480H509"/></g>
<g id="n2d2"><text class="t" y="2530.7"><tspan x="231">高端化由于全抛釉产品生命期与成长期的跨越</tspan><tspan x="231" dy="16.7">性人性，从一个新产品到行业普及的产品，仅</tspan><tspan x="231" dy="16.7">用了不足一年的时间。然而这样发展速度，在</tspan><tspan x="231" dy="16.7">目前而言，依然不影响多数企业对它的定义。</tspan><tspan x="231" dy="16.7">作为一个全新的产品，虽然行业蜂涌而上，但</tspan><tspan x="231" dy="16.7">对于市场多数的消费而者还是比较陌生的，它</tspan><tspan x="231" dy="16.7">还有一段时间让市场和用户消化和认识。而在</tspan><tspan x="231" dy="16.7">这一段时间的中间，在消费者群体还没有接受</tspan><tspan x="231" dy="16.7">和熟悉他之前，全抛釉产品依然保持着他高傲</tspan><tspan x="231" dy="16.7">的格调，在短时间内他依然可以赚取高于传统</tspan><tspan x="231" dy="16.7">产品的利润空间。因此，多数企业在初上全抛</tspan><tspan x="231" dy="16.7">釉的产品之时，往往都会将其定位成为企业高</tspan><tspan x="231" dy="16.7">端的产品，是赚取利润和形象的产品。不过，</tspan><tspan x="231" dy="16.7">随着全抛釉产品的不断成熟，高端的定位最终</tspan><tspan x="231" dy="16.7">还是成为一个美丽伪命题。</tspan></text><path class="l" d="M224 2774H509"/></g>
<g id="n2d3"><text class="t" y="2823.2"><tspan x="231">设计化相对传统的抛光砖产品而言，全抛釉产</tspan><tspan x="231" dy="16.7">品更注重应用设计，特别是是终端的展示表现</tspan><tspan x="231" dy="16.7">手法，做足了设计功夫。不少已经代理全抛釉</tspan><tspan x="231" dy="16.7">产品的经销商在展厅改造方面投入所有的资源</tspan><tspan x="231" dy="16.7">，只为表现出产品的价值和品味。全抛釉产品</tspan><tspan x="231" dy="16.7">如果没有了专业完美的产品配套和周边元素，</tspan><tspan x="231" dy="16.7">那么就算推出全抛釉产品也不一定可以在市场</tspan><tspan x="231" dy="16.7">上得好业绩。因为作为一个新的产品，在终端</tspan><tspan x="231" dy="16.7">市场上消费还需要一段认识和接受的时间。然</tspan><tspan x="231" dy="16.7">而本身就是以设计</tspan></text><path class="l" d="M224 2983H509"/></g>
<g id="n2d4"><text class="t" y="3031.5"><tspan x="231">为主导的产品，如果没有良好的终端应用引导</tspan><tspan x="231" dy="16.7">和形象展示，那么全抛釉将会是一个没有翅膀</tspan><tspan x="231" dy="16.7">的天使，美丽难飞。另一方面，就目前已经推</tspan><tspan x="231" dy="16.7">出全抛釉的领军品牌的市场动向而言，几乎他</tspan><tspan x="231" dy="16.7">们都在深挖一个共同的市场，就是设计师市场</tspan><tspan x="231" dy="16.7">。作为一个相对高端的建材产品，在国内而言</tspan><tspan x="231" dy="16.7">，设计师往往是一个最佳销售渠道。因为专业</tspan><tspan x="231" dy="16.7">设计师群体往往接触都是当地较为高端的消费</tspan><tspan x="231" dy="16.7">，而一般的消费者与设计师往往不相往来，甚</tspan><tspan x="231" dy="16.7">为陌生。所以，设计师是在未来一段时间依然</tspan><tspan x="231" dy="16.7">是全抛釉产品主要销售渠道之一。</tspan></text><path class="l" d="M224 3208H509"/></g>

<g id="n4a"><text class="t" x="582" y="3609.5">一、对销售工作的认识</text><path class="l" d="M562 3619H730"/></g>
<g id="n4a1"><text class="t" y="3257.1"><tspan x="284">1.市场分析，根据市场容量和个人能力，客观</tspan><tspan x="284" dy="16.7">、科学的制定出销售任务。暂订年任务：销售</tspan><tspan x="284" dy="16.7">额100万元。</tspan></text><path class="l" d="M276 3300H562"/></g>
<g id="n4a2"><text class="t" y="3348.1"><tspan x="284">2.适时作出工作计划，制定出月计划和周计划</tspan><tspan x="284" dy="16.7">。并定期与业务相关人员会议沟通，确保各专</tspan><tspan x="284" dy="16.7">业负责人及时跟进。</tspan></text><path class="l" d="M276 3391H562"/></g>
<g id="n4a3"><text class="t" y="3439.8"><tspan x="284">3.注重绩效管理，对绩效计划、绩效执行、绩</tspan><tspan x="284" dy="16.7">效评估进行全程的关注与跟踪。</tspan></text><path class="l" d="M276 3466H562"/></g>
<g id="n4a4"><text class="t" y="3514.1"><tspan x="284">4.目标市场定位，区分大客户与一般客户，分</tspan><tspan x="284" dy="16.7">别对待，加强对大客户的沟通与合作，用相同</tspan><tspan x="284" dy="16.7">的时间赢取最大的市场份额。</tspan></text><path class="l" d="M276 3557H562"/></g>
<g id="n4a5"><text class="t" y="3604.7"><tspan x="284">5.不断学习行业新知识，新产品，为客户带来</tspan><tspan x="284" dy="16.7">实用的资讯，更好为客户服务。并结识弱电各</tspan><tspan x="284" dy="16.7">行业各档次的优秀产品提供商，以备工程商需</tspan><tspan x="284" dy="16.7">要时能及时作好项目配合，并可以和同行分享</tspan><tspan x="284" dy="16.7">行业人脉和项目信息，达到多赢。</tspan></text><path class="l" d="M276 3681H562"/></g>
<g id="n4a6"><text class="t" y="3730.1"><tspan x="284">6.先友后单，与客户发展良好的友谊，处处为</tspan><tspan x="284" dy="16.7">客户着想，把客户当成自己的好朋友，达到思</tspan><tspan x="284" dy="16.7">想和情感上的交融。</tspan></text><path class="l" d="M276 3773H562"/></g>
<g id="n4a7"><text class="t" y="3821.1"><tspan x="284">7.对客户不能有隐瞒和欺骗，答应客户的承诺</tspan><tspan x="284" dy="16.7">要及时兑现，讲诚信不仅是经商之本，也是为</tspan><tspan x="284" dy="16.7">人之本。</tspan></text><path class="l" d="M276 3864H562"/></g>
<g id="n4a8"><text class="t" y="3911.8"><tspan x="284">8.努力保持和谐的同事关系，善待同事，确保</tspan><tspan x="284" dy="16.7">各部门在项目实施中各项职能的顺利执行。</tspan></text><path class="l" d="M276 3938H562"/></g>
<g id="n4b"><text class="t" x="555" y="4124.5">二、销售工作具体量化任务</text><path class="l" d="M536 4134H730"/></g>
<g id="n4b1"><text class="t" y="3988"><tspan x="257">1.制定出月计划和周计划、及每日的工作量。</tspan><tspan x="257" dy="16.7">每天至少打30个电话，每周至少拜访20位客</tspan><tspan x="257" dy="16.7">户，促使潜在客户从量变到质变。上午重点电</tspan><tspan x="257" dy="16.7">话回访和预约客户，下午时间长可安排拜访客</tspan><tspan x="257" dy="16.7">户。考虑北京市地广人多，交通涌堵，预约时</tspan><tspan x="257" dy="16.7">最好选择客户在相同或接近的地点。</tspan></text><path class="l" d="M250 4081H536"/></g>
<g id="n4b2"><text class="t" y="4129.4"><tspan x="257">2.见客户之前要多了解客户的主营业务和潜在</tspan><tspan x="257" dy="16.7">需求，最好先了解决策人的个人爱好，准备一</tspan><tspan x="257" dy="16.7">些有对方感兴趣的话题，并为客户提供针对性</tspan><tspan x="257" dy="16.7">的解决方案。</tspan></text><path class="l" d="M250 4189H536"/></g>

<g id="n6a"><text class="t" x="516" y="4237.5">盈利持续增长，自主品牌占据主导</text><path class="l" d="M509 4247H730"/></g>
<g id="n6b"><text class="t" y="4295.2"><tspan x="451">近年来，长城集团经营业绩实现快速增长，0</tspan><tspan x="451" dy="16.7">7至09年营业收入分别实现18，、26，和32</tspan><tspan x="451" dy="16.7">，万元，年均增长%；扣除非经常性损益后的</tspan><tspan x="451" dy="16.7">净利润分别实现1，、2，和4，万元，年均增</tspan><tspan x="451" dy="16.7">长%。其中，艺术陶瓷作为主营产品，是公司</tspan><tspan x="451" dy="16.7">收入及利润的主要来源，报告期内艺术陶瓷销</tspan><tspan x="451" dy="16.7">售收入占主营收入的比例平均为%。另外，公</tspan><tspan x="451" dy="16.7">司产品以自主品牌销售为主，并呈逐年上升趋</tspan><tspan x="451" dy="16.7">势，其销售占比已由07年的%上升到09年的</tspan><tspan x="451" dy="16.7">%。</tspan></text><path class="l" d="M443 4455H730"/></g>
<g id="n6c"><text class="t" y="4503.3"><tspan x="451">一直以来，该公司产品行销全球、外销占比较</tspan><tspan x="451" dy="16.7">高，08年其艺术陶瓷产品出口额位居行业第</tspan><tspan x="451" dy="16.7">二。近年公司开始大力拓展国内市场，内销收</tspan><tspan x="451" dy="16.7">入实现大幅增长，由07年的万元增长至09年</tspan><tspan x="451" dy="16.7">的3，万元，内销收入占销售总额的比例也由</tspan><tspan x="451" dy="16.7">07年的%提高到09年的%，内销已成为公司</tspan><tspan x="451" dy="16.7">又一重要利润来源。</tspan></text><path class="l" d="M443 4613H730"/></g>
<g id="n6d"><text class="t" x="516" y="4661.5">拥有卓越的艺术陶瓷创意设计能力</text><path class="l" d="M509 4671H730"/></g>
<g id="n6e"><text class="t" y="4722.3"><tspan x="451">卓越的创意设计能力是长城集团核心竞争力的</tspan><tspan x="451" dy="16.7">重要体现，该公司在传承陶瓷文化的基础上，</tspan><tspan x="451" dy="16.7">以"文化创意、科技创新"为理念，在艺术陶瓷</tspan><tspan x="451" dy="16.7">创意设计方面形成了强大的竞争优势：公司拥</tspan><tspan x="451" dy="16.7">有面积约7000平米的艺术陶瓷展厅、积累了7</tspan><tspan x="451" dy="16.7">0000余种各类艺术陶瓷，其中包含了68个国</tspan><tspan x="451" dy="16.7">家和地区的设计风格与文化理念，公司将其按</tspan><tspan x="451" dy="16.7">属性和地区分类并加以信息化管理，建立了业</tspan><tspan x="451" dy="16.7">内领先的"创意研发数据库"，极大提升了公司</tspan><tspan x="451" dy="16.7">快速设计能力、大幅缩短了产品设计周期；同</tspan><tspan x="451" dy="16.7">时，公司坚持走产、学、研相结合的设计开发</tspan><tspan x="451" dy="16.7">道路，与国内外著名院校和设计事务所、工作</tspan><tspan x="451" dy="16.7">室建立了长期稳定的合作关系，并通过派遣优</tspan><tspan x="451" dy="16.7">秀设计师出国考察等形式及时掌握行业最新潮</tspan><tspan x="451" dy="16.7">流和动态。为保证自主创新的持续进行，该公</tspan><tspan x="451" dy="16.7">司每年用于研发的投入占营收的比重约达3%</tspan><tspan x="451" dy="16.7">，处于业内领先水平。</tspan></text><path class="l" d="M443 4999H730"/></g>
<g id="n6f"><text class="t" y="5046.9"><tspan x="451">国外市场，长城集团拥有覆盖68个国家和地</tspan><tspan x="451" dy="16.7">区的400多个客户，其中业务来往频繁的客户</tspan><tspan x="451" dy="16.7">达120多个，并与国外多个知名经销商建立了</tspan><tspan x="451" dy="16.7">长期稳定的供销合作关系，如美国的LOWE'</tspan><tspan x="451" dy="16.7">S、ROSS等。同时，公司也在探索新型海外</tspan><tspan x="451" dy="16.7">销售合作模式，积极建立海外直销渠道，计划</tspan><tspan x="451" dy="16.7">与当地客户合作设立长城艺术陶瓷专卖店或者</tspan><tspan x="451" dy="16.7">柜台，目前公司已与巴西、墨西哥等地客户就</tspan><tspan x="451" dy="16.7">合作事宜达成初步协议。</tspan></text><path class="l" d="M443 5190H730"/></g>
</g>
</svg>
